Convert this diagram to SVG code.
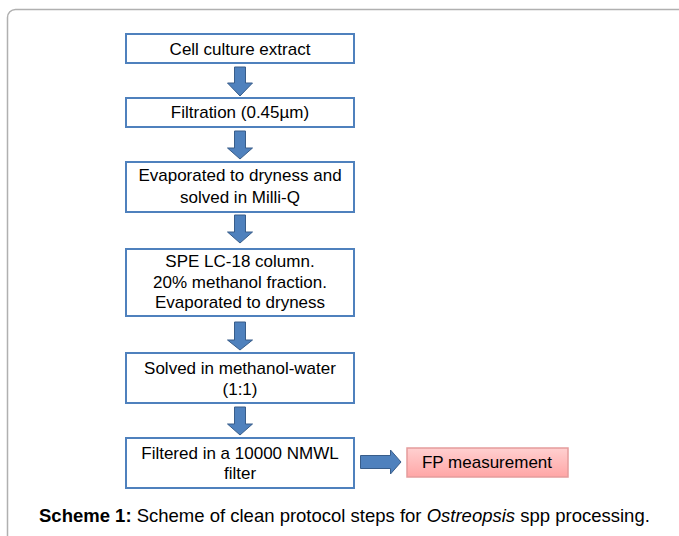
<svg xmlns="http://www.w3.org/2000/svg" width="679" height="536" viewBox="0 0 679 536">
<defs>
<linearGradient id="pink" x1="0" y1="0" x2="0" y2="1">
<stop offset="0" stop-color="#ffd0d0"/>
<stop offset="1" stop-color="#ffa6a6"/>
</linearGradient>
<style>
.box{fill:#fff;stroke:#4f81bd;stroke-width:2}
.t{font-family:"Liberation Sans",Arial,sans-serif;font-size:17px;fill:#000;text-anchor:middle}
.arr{fill:#4f81bd;stroke:#385d8a;stroke-width:1}
.cap{font-family:"Liberation Sans",Arial,sans-serif;font-size:18.5px;fill:#000}
</style>
</defs>
<rect x="7.5" y="9.5" width="700" height="560" rx="8" ry="8" fill="#fff" stroke="#b0b0b0" stroke-width="1.5"/>
<g id="connectors">
<path class="arr" d="M234.5,67 h11 v16 h7 l-12.5,13 l-12.5,-13 h7 z"/>
<path class="arr" d="M234.5,131 h11 v17 h7 l-12.5,11 l-12.5,-11 h7 z"/>
<path class="arr" d="M234.5,215 h11 v17 h7 l-12.5,11 l-12.5,-11 h7 z"/>
<path class="arr" d="M234.5,322 h11 v18 h7 l-12.5,10 l-12.5,-10 h7 z"/>
<path class="arr" d="M234.5,407 h11 v17 h7 l-12.5,11 l-12.5,-11 h7 z"/>
<path class="arr" d="M360.5,455.5 h30 v-5.5 l10.5,12 l-10.5,12 v-5.5 h-30 z"/>
</g>
<g id="n1"><rect class="box" x="126" y="34" width="228" height="29"/><text class="t" x="240" y="55">Cell culture extract</text></g>
<g id="n2"><rect class="box" x="126" y="98" width="228" height="29"/><text class="t" x="240" y="118">Filtration (0.45µm)</text></g>
<g id="n3"><rect class="box" x="126" y="162" width="228" height="50"/><text class="t" x="240" y="181">Evaporated to dryness and</text><text class="t" x="240" y="203">solved in Milli-Q</text></g>
<g id="n4"><rect class="box" x="126" y="249" width="228" height="67"/><text class="t" x="240" y="267">SPE LC-18 column.</text><text class="t" x="240" y="288">20% methanol fraction.</text><text class="t" x="240" y="308">Evaporated to dryness</text></g>
<g id="n5"><rect class="box" x="126" y="353" width="228" height="50"/><text class="t" x="240" y="374">Solved in methanol-water</text><text class="t" x="240" y="395">(1:1)</text></g>
<g id="n6"><rect class="box" x="126" y="438" width="228" height="50"/><text class="t" x="240" y="459">Filtered in a 10000 NMWL</text><text class="t" x="240" y="479">filter</text></g>
<g id="n7"><rect x="407" y="448" width="161" height="29" fill="url(#pink)" stroke="#e59c9c" stroke-width="1.5"/><text class="t" x="487" y="468">FP measurement</text></g>
<text class="cap" x="39" y="522"><tspan font-weight="bold">Scheme 1:</tspan> Scheme of clean protocol steps for <tspan font-style="italic">Ostreopsis</tspan> spp processing.</text>
</svg>
